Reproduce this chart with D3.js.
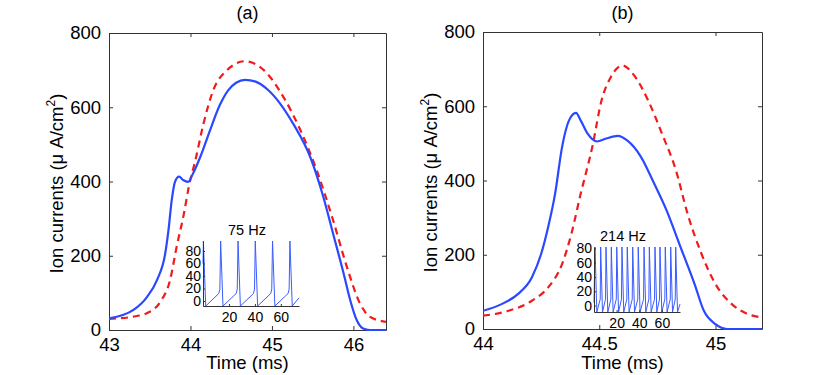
<!DOCTYPE html>
<html>
<head>
<meta charset="utf-8">
<script src="https://cdn.jsdelivr.net/npm/d3@7"></script>
<style>
  body { margin: 0; background: #fff; }
  svg text { font-family: "Liberation Sans", Arial, Helvetica, sans-serif; fill: #000; }
</style>
</head>
<body>
<div id="chart"></div>
<script>
// Ion currents during one spike, two panels, each with a small spike-train inset

////////////////////////////////////////////////////////////////////////////////
// Data
// panel (a): [time ms, current uA/cm2]
const blueA = [
  [43.0, 31], [43.3, 54], [43.47, 90], [43.59, 135], [43.69, 206], [43.73, 269],
  [43.77, 350], [43.81, 399], [43.86, 413], [43.91, 404], [43.97, 399], [44.03, 421],
  [44.12, 466], [44.24, 538], [44.36, 606], [44.46, 645], [44.56, 666], [44.67, 674],
  [44.8, 669], [44.95, 647], [45.1, 610], [45.26, 556], [45.47, 466], [45.63, 359],
  [45.75, 260], [45.88, 152], [45.96, 81], [46.04, 27], [46.12, 4], [46.2, 0], [46.4, 0]
];
const redA = [
  [43.0, 30], [43.3, 36], [43.5, 49], [43.63, 76], [43.75, 135], [43.83, 224],
  [43.92, 314], [43.98, 386], [44.06, 457], [44.16, 556], [44.28, 646], [44.45, 700],
  [44.67, 724], [44.9, 700], [45.14, 628], [45.35, 538], [45.55, 430], [45.75, 296],
  [45.92, 170], [46.08, 72], [46.2, 36], [46.4, 22]
];
// panel (b)
const blueB = [
  [44.0, 49], [44.08, 67], [44.15, 94], [44.21, 139], [44.25, 202], [44.28, 274],
  [44.31, 364], [44.34, 490], [44.37, 562], [44.40, 582], [44.42, 562], [44.45, 526],
  [44.49, 505], [44.53, 513], [44.58, 520], [44.62, 508], [44.68, 463], [44.73, 400],
  [44.79, 319], [44.85, 220], [44.91, 121], [44.95, 49], [45.0, 13], [45.05, 0], [45.2, 0]
];
const redB = [
  [44.0, 36], [44.11, 49], [44.21, 76], [44.28, 112], [44.34, 175], [44.38, 256],
  [44.42, 364], [44.47, 490], [44.51, 616], [44.55, 679], [44.6, 710], [44.65, 683],
  [44.71, 616], [44.77, 526], [44.83, 427], [44.88, 310], [44.94, 202], [45.0, 121],
  [45.07, 67], [45.14, 40], [45.2, 31]
];

// insets: membrane potential trace [ms, mV]
const traceA = [
  [0.0, 60], [0.3, 96], [2.1, -8],
  [12.2, 12], [13.0, 19], [13.6, 96], [15.4, -8],
  [25.6, 12], [26.4, 19], [27.0, 96], [28.8, -8],
  [38.9, 12], [39.7, 19], [40.3, 96], [42.1, -8],
  [52.2, 12], [53.0, 19], [53.6, 96], [55.4, -8],
  [65.6, 12], [66.4, 19], [67.0, 96], [68.8, -8],
  [74.0, 5]
];
const traceB = [
  [0.0, 4], [0.9, 82], [2.5, -9],
  [5.5, 9], [5.9, 82], [7.5, -9],
  [10.2, 9], [10.6, 82], [12.2, -9],
  [14.9, 9], [15.3, 82], [16.9, -9],
  [19.7, 9], [20.1, 82], [21.7, -9],
  [24.3, 9], [24.7, 82], [26.3, -9],
  [29.0, 9], [29.4, 82], [31.0, -9],
  [33.8, 9], [34.2, 82], [35.8, -9],
  [38.7, 9], [39.1, 82], [40.7, -9],
  [43.8, 9], [44.2, 82], [45.8, -9],
  [48.5, 9], [48.9, 82], [50.5, -9],
  [53.5, 9], [53.9, 82], [55.5, -9],
  [57.9, 9], [58.3, 82], [59.9, -9],
  [62.6, 9], [63.0, 82], [64.6, -9],
  [67.4, 9], [67.8, 82], [69.4, -9],
  [71.8, 9], [72.2, 82], [73.8, -9],
  [76.0, 2]
];

const yTicks = [0, 200, 400, 600, 800];
const xTicksA = [43, 44, 45, 46];
const xTicksB = [44, 44.5, 45];
const insetYTicks = [0, 20, 40, 60, 80];
const insetXTicks = [20, 40, 60];

////////////////////////////////////////////////////////////////////////////////
// Setup
const svg = d3.select('#chart').append('svg')
  .attr('width', 830)
  .attr('height', 375);

const axisColor = '#333';
const blue = '#2a48ff';
const red = '#f21a1a';
const fmt = d => String(d);

function drawPanel (opt) {
  const x = d3.scaleLinear().domain(opt.xDomain).range([opt.left, opt.right]);
  const y = d3.scaleLinear().domain([0, 800]).range([opt.bottom, opt.top]);
  const g = svg.append('g');

  const clipId = 'clip' + opt.name;
  g.append('clipPath').attr('id', clipId)
    .append('rect')
    .attr('x', opt.left).attr('y', opt.top - 2)
    .attr('width', opt.right - opt.left).attr('height', opt.bottom - opt.top + 3);

  // ticks on all four sides, pointing in
  const axes = [
    d3.axisBottom(x).tickValues(opt.xTicks).tickFormat(fmt).tickSizeInner(-4).tickSizeOuter(0).tickPadding(8),
    d3.axisTop(x).tickValues(opt.xTicks).tickSizeInner(-4).tickSizeOuter(0).tickFormat(''),
    d3.axisLeft(y).tickValues(yTicks).tickFormat(fmt).tickSizeInner(-4).tickSizeOuter(0).tickPadding(8),
    d3.axisRight(y).tickValues(yTicks).tickSizeInner(-4).tickSizeOuter(0).tickFormat('')
  ];
  const offsets = [
    `translate(0,${opt.bottom})`, `translate(0,${opt.top})`,
    `translate(${opt.left},0)`, `translate(${opt.right},0)`
  ];
  axes.forEach((ax, i) => {
    const a = g.append('g').attr('transform', offsets[i]).call(ax);
    a.select('.domain').attr('stroke', axisColor);
    a.selectAll('.tick line').attr('stroke', axisColor);
    a.selectAll('.tick text').attr('font-size', 18.5);
  });
  g.selectAll('.tick text').attr('fill', '#000');

  const line = d3.line().x(d => x(d[0])).y(d => y(d[1])).curve(d3.curveMonotoneX);
  const curves = g.append('g').attr('clip-path', `url(#${clipId})`);
  curves.append('path')
    .attr('d', line(opt.red))
    .attr('fill', 'none')
    .attr('stroke', red)
    .attr('stroke-width', 2.2)
    .attr('stroke-dasharray', '7,5');
  curves.append('path')
    .attr('d', line(opt.blue))
    .attr('fill', 'none')
    .attr('stroke', blue)
    .attr('stroke-width', 2.2);

  // labels
  const cx = (opt.left + opt.right) / 2;
  g.append('text')
    .attr('x', cx).attr('y', 19)
    .attr('text-anchor', 'middle')
    .attr('font-size', 18)
    .text(opt.title);
  g.append('text')
    .attr('x', cx).attr('y', 369)
    .attr('text-anchor', 'middle')
    .attr('font-size', 18.5)
    .text('Time (ms)');
  const yl = g.append('text')
    .attr('transform', `translate(${opt.left - 46},${(opt.top + opt.bottom) / 2 + 2}) rotate(-90)`)
    .attr('text-anchor', 'middle')
    .attr('font-size', 18.5);
  yl.append('tspan').text('Ion currents (\u03bc A/cm');
  yl.append('tspan').attr('font-size', 12).attr('dy', -8).text('2');
  yl.append('tspan').attr('dy', 8).text(')');

  // inset spike train
  const ins = opt.inset;
  const ix = d3.scaleLinear().domain(ins.xDomain).range([ins.left, ins.right]);
  const iy = d3.scaleLinear().domain(ins.yDomain).range([ins.bottom, ins.top]);
  const ig = g.append('g');
  ig.append('path')
    .attr('d', d3.line().x(d => ix(d[0])).y(d => iy(d[1]))(ins.trace))
    .attr('fill', 'none')
    .attr('stroke', '#3a5cff')
    .attr('stroke-width', 1);
  const iax = ig.append('g').attr('transform', `translate(0,${ins.bottom})`)
    .call(d3.axisBottom(ix).tickValues(insetXTicks).tickSizeInner(-2).tickSizeOuter(0).tickPadding(6));
  const iay = ig.append('g').attr('transform', `translate(${ins.left},0)`)
    .call(d3.axisLeft(iy).tickValues(insetYTicks).tickSizeInner(-2).tickSizeOuter(0).tickPadding(2));
  [iax, iay].forEach(a => {
    a.select('.domain').attr('stroke', axisColor);
    a.selectAll('.tick line').attr('stroke', axisColor);
    a.selectAll('.tick text').attr('font-size', 14).attr('fill', '#000');
  });
  ig.append('text')
    .attr('x', ins.labelX).attr('y', ins.top - 6)
    .attr('text-anchor', 'middle')
    .attr('font-size', 14.5)
    .text(ins.label);
}

drawPanel({
  name: 'a', title: '(a)',
  left: 109, right: 386, top: 33, bottom: 330,
  xDomain: [43, 46.4], xTicks: xTicksA,
  blue: blueA, red: redA,
  inset: {
    left: 203, right: 299, top: 241, bottom: 306,
    xDomain: [0, 74], yDomain: [-8, 96],
    trace: traceA, label: '75 Hz', labelX: 247
  }
});

drawPanel({
  name: 'b', title: '(b)',
  left: 483, right: 762, top: 32, bottom: 329,
  xDomain: [44, 45.2], xTicks: xTicksB,
  blue: blueB, red: redB,
  inset: {
    left: 594, right: 680, top: 247, bottom: 312,
    xDomain: [0, 76], yDomain: [-9, 82],
    trace: traceB, label: '214 Hz', labelX: 623
  }
});
</script>
</body>
</html>
